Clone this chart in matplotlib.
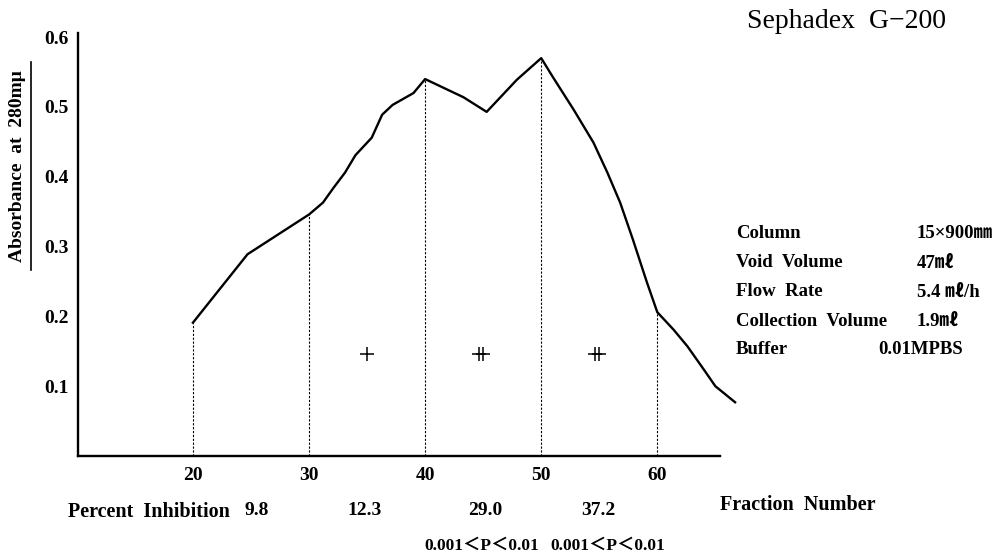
import matplotlib
matplotlib.use("Agg")
import matplotlib.pyplot as plt
from matplotlib.lines import Line2D

plt.rcParams['font.family'] = ['Liberation Serif', 'Noto Sans CJK JP', 'DejaVu Serif']
plt.rcParams['font.weight'] = 'bold'

# elution profile
fraction = [20.0, 24.7, 30.0, 31.2, 32.1, 33.1, 34.0, 35.4, 36.3, 37.2, 39.0, 40.0,
            43.3, 45.3, 47.9, 50.0, 51.0, 52.8, 54.5, 55.7, 56.8, 57.9, 59.1, 60.0,
            61.4, 62.6, 64.0, 65.0, 66.7]
absorbance = [0.191, 0.289, 0.346, 0.363, 0.384, 0.406, 0.431, 0.456, 0.489, 0.503, 0.520, 0.540,
              0.514, 0.493, 0.539, 0.570, 0.543, 0.496, 0.449, 0.406, 0.363, 0.310, 0.249, 0.206,
              0.181, 0.157, 0.124, 0.100, 0.077]

cut_fractions = [20, 30, 40, 50, 60]
cut_values = [0.191, 0.346, 0.540, 0.570, 0.206]

sig_x = [35.0, 44.8, 54.8]
sig_marks = ['+', '#', '#']
sig_y = 0.146

inhib_x = [25.5, 34.8, 45.2, 54.9]
inhib_labels = ['9.8', '12.3', '29.0', '37.2']
pval_x = [44.9, 55.7]
pval_labels = ['0.001＜P＜0.01', '0.001＜P＜0.01']

cond_names = ['Column', 'Void  Volume', 'Flow  Rate', 'Collection  Volume', 'Buffer']
cond_values = ['15×900㎜', '47㎖', '5.4 ㎖/h', '1.9㎖', '0.01MPBS']

W, H = 1008, 556
fig = plt.figure(figsize=(W / 100, H / 100), dpi=100)
ax = fig.add_axes([78 / W, 1 - 456 / H, (720 - 78) / W, (456 - 33) / H])

ax.plot(fraction, absorbance, color='black', lw=1.7, clip_on=False, solid_joinstyle='round')
for xf, yv in zip(cut_fractions, cut_values):
    ax.plot([xf, xf], [0, yv], color='black', lw=0.8, ls=(0, (2, 1.5)))

# significance marks (double cross drawn as two overlapping plus markers)
for xs, m in zip(sig_x, sig_marks):
    offsets = [0.0] if m == '+' else [-0.17, 0.17]
    for dx in offsets:
        ax.plot([xs + dx], [sig_y], marker='+', ms=10, mew=1.1, color='black')

ax.set_xlim(10.1, 65.4)
ax.set_ylim(0, 0.606)
ax.set_xticks(cut_fractions)
ax.set_yticks([0.1, 0.2, 0.3, 0.4, 0.5, 0.6])
ax.set_yticklabels(['0.1', '0.2', '0.3', '0.4', '0.5', '0.6'])
ax.tick_params(axis='both', length=0, labelsize=14)
ax.tick_params(axis='x', pad=8)
ax.tick_params(axis='y', pad=7)
for lab in ax.get_xticklabels() + ax.get_yticklabels():
    lab.set_fontweight('bold')
for s in ['top', 'right']:
    ax.spines[s].set_visible(False)
ax.spines['left'].set_linewidth(1.7)
ax.spines['bottom'].set_linewidth(1.7)

# y label with underline
fig.text(18 / W, 1 - 166 / H, 'Absorbance  at  280mμ', rotation=90, ha='center', va='center',
         fontsize=14, fontweight='bold')
fig.add_artist(Line2D([31 / W, 31 / W], [1 - 62 / H, 1 - 270 / H], color='black', lw=1.2))

# inhibition row
fig.text(68 / W, 1 - 512 / H, 'Percent  Inhibition', ha='left', va='center', fontsize=14.5)
for xi, lab in zip(inhib_x, inhib_labels):
    ax.text(xi, -0.0786, lab, ha='center', va='center', fontsize=14, clip_on=False)
for xp, lab in zip(pval_x, pval_labels):
    ax.text(xp, -0.129, lab, ha='center', va='center', fontsize=12.5, clip_on=False)

fig.text(720 / W, 1 - 505 / H, 'Fraction  Number', ha='left', va='center', fontsize=14.5)
fig.text(747 / W, 1 - 22 / H, 'Sephadex  G−200', ha='left', va='center', fontsize=20,
         fontweight='normal')

# column conditions
row_y = [234, 263, 292, 321, 349]
for yy, name, val in zip(row_y, cond_names, cond_values):
    fig.text(736 / W, 1 - yy / H, name, ha='left', va='center', fontsize=13.5)
    vx = 878 if name == 'Buffer' else 917
    fig.text(vx / W, 1 - yy / H, val, ha='left', va='center', fontsize=13.5)

fig.savefig('out.png', dpi=100)
